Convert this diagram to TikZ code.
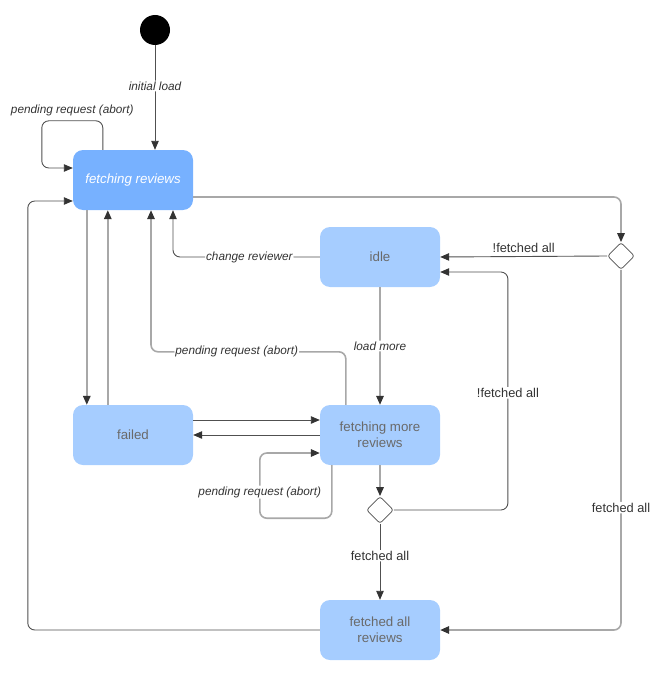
\documentclass[tikz,border=0pt]{standalone}
\usepackage{fontspec}
\setmainfont{Liberation Sans}
\usetikzlibrary{arrows.meta,calc,shapes.geometric}
\definecolor{darkfill}{HTML}{77B1FF}
\definecolor{lightfill}{HTML}{A6CDFF}
\definecolor{boxtext}{HTML}{6A6A6A}
\definecolor{labtext}{HTML}{333333}
\definecolor{glinec}{HTML}{A8A8A8}
\definecolor{dlinec}{HTML}{505050}
\definecolor{tipc}{HTML}{333333}
\tikzset{
  statebox/.style={rectangle, rounded corners=10pt, fill=lightfill, draw=none,
    minimum width=120pt, minimum height=60pt, text=boxtext, align=center,
    font=\fontsize{13.3}{16}\selectfont},
  darkbox/.style={statebox, fill=darkfill, text=white, font=\fontsize{13.3}{16}\selectfont\itshape},
  choice/.style={diamond, draw=dlinec, line width=0.8pt, fill=white, minimum size=27pt, inner sep=0pt, rounded corners=2.5pt},
  startdot/.style={circle, fill=black, minimum size=30pt, inner sep=0pt},
  tip/.style={-{Triangle[length=9pt,width=7.5pt,color=tipc]}},
  gl/.style={draw=glinec, line width=1.6pt, rounded corners=7pt, tip},
  dl/.style={draw=dlinec, line width=0.9pt, rounded corners=7pt, tip},
  itlab/.style={fill=white, inner sep=1pt, text=labtext, font=\fontsize{11.8}{13}\selectfont\itshape},
  uplab/.style={fill=white, inner sep=1pt, text=labtext, font=\fontsize{12.8}{14}\selectfont},
}
\begin{document}
\begin{tikzpicture}[x=1pt,y=-1pt]
\useasboundingbox (0,0) rectangle (666,674);

\node[startdot] (start) at (155,30) {};
\node[darkbox] (fr) at (133,180) {fetching reviews};
\node[statebox] (idle) at (380,257) {idle};
\node[statebox] (fl) at (133,435) {failed};
\node[statebox] (fm) at (380,435) {fetching more\\reviews};
\node[statebox] (fa) at (380,630) {fetched all\\reviews};
\node[choice] (d1) at (621,256) {};
\node[choice] (d2) at (380,510) {};

% initial load
\draw[dl] (start) -- node[itlab, pos=0.39] {initial load} ($(fr.north)+(22,0)$);
% self loop on fetching reviews
\draw[dl] ($(fr.north west)+(30,0)$) -- ++(0,-29) -- node[itlab, above=3pt, fill=none] {pending request (abort)} ++(-61,0) |- ($(fr.west)+(0,-12)$);
% fetching reviews -> choice 1
\draw[gl] ($(fr.east)+(0,17)$) -| (d1.north);
% choice 1 -> idle
\draw[dl] (d1.west) -- node[uplab, above=2pt, fill=none] {!fetched all} (idle.east);
% choice 1 -> fetched all reviews
\draw[gl] (d1.south) |- node[uplab, pos=0.33] {fetched all} (fa.east);
% idle -> fetching reviews
\draw[dl] (idle.west) -| node[itlab, pos=0.24] {change reviewer} ($(fr.south)+(40,0)$);
% idle -> fetching more
\draw[gl] (idle.south) -- node[itlab] {load more} (fm.north);
% fetching more -> fetching reviews
\draw[gl] ($(fm.north west)+(26,0)$) -- ++(0,-53) -| node[itlab, pos=0.28] {pending request (abort)} ($(fr.south)+(18,0)$);
% fetching reviews <-> failed
\draw[gl] ($(fr.south west)+(14,0)$) -- ($(fl.north west)+(14,0)$);
\draw[gl] ($(fl.north west)+(35,0)$) -- ($(fr.south west)+(35,0)$);
% failed <-> fetching more
\draw[dl] ($(fl.east)+(0,-15)$) -- ($(fm.west)+(0,-15)$);
\draw[dl] (fm.west) -- (fl.east);
% self loop on fetching more
\draw[gl] ($(fm.south west)+(12,0)$) -- ++(0,53) -- ++(-72,0) |- node[itlab, pos=0.2] {pending request (abort)} ($(fm.west)+(0,18)$);
% fetching more -> choice 2
\draw[gl] (fm.south) -- (d2.north);
% choice 2 -> idle
\draw[dl] (d2.east) -- ++(114,0) |- node[uplab, pos=0.246] {!fetched all} ($(idle.east)+(0,15)$);
% choice 2 -> fetched all reviews
\draw[dl] (d2.south) -- node[uplab, pos=0.42] {fetched all} (fa.north);
% fetched all reviews -> fetching reviews
\draw[dl] (fa.west) -- ++(-292,0) |- ($(fr.west)+(0,21)$);
\end{tikzpicture}
\end{document}
